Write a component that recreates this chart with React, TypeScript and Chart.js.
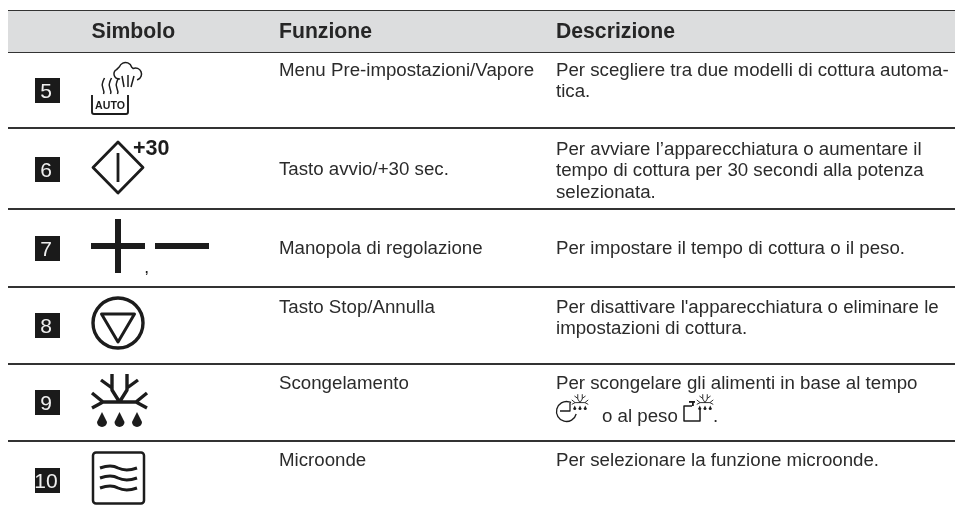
import React, { useEffect, useRef } from "react";
import { Chart, registerables } from "chart.js";
Chart.register(...registerables);

const headers = ["Simbolo", "Funzione", "Descrizione"];
const rowNumbers = ["5", "6", "7", "8", "9", "10"];
const functions = [
  "Menu Pre-impostazioni/Vapore",
  "Tasto avvio/+30 sec.",
  "Manopola di regolazione",
  "Tasto Stop/Annulla",
  "Scongelamento",
  "Microonde",
];
const descriptions = [
  ["Per scegliere tra due modelli di cottura automa-", "tica."],
  ["Per avviare l’apparecchiatura o aumentare il", "tempo di cottura per 30 secondi alla potenza", "selezionata."],
  ["Per impostare il tempo di cottura o il peso."],
  ["Per disattivare l'apparecchiatura o eliminare le", "impostazioni di cottura."],
  ["Per scongelare gli alimenti in base al tempo"],
  ["Per selezionare la funzione microonde."],
];
const inlineText = ["o al peso", "."];
const ruleRows = [11, 52, 128, 209, 287, 364, 441];
const functionBaselines = [76, 175, 254, 313, 389, 466];
const descBaselines = [76, 155, 254, 313, 389, 466];
const badgeTops = [78, 157, 236, 313, 390, 468];

const INK = "#2b2b2b";
const BODY = "18.7px 'Liberation Sans'";
const HEAD = "bold 21.2px 'Liberation Sans'";

function drawFlake(c: CanvasRenderingContext2D, x: number, y: number, s: number, w: number) {
  const paths = [
    [[112, 374], [112, 390], [119.5, 402], [127, 390], [127, 374]],
    [[101, 380], [112, 388]],
    [[138, 380], [127, 388]],
    [[92, 393], [103, 402], [92, 408]],
    [[147, 393], [136, 402], [147, 408]],
    [[103, 402], [136, 402]],
  ];
  c.lineWidth = w;
  c.beginPath();
  for (const p of paths) {
    p.forEach(([a, b], i) => {
      const px = x + (a - 119.5) * s, py = y + (b - 400) * s;
      if (i === 0) c.moveTo(px, py);
      else c.lineTo(px, py);
    });
  }
  c.stroke();
  for (const dx of [-17.5, 0, 17.5]) {
    const px = x + dx * s, py = y + 22 * s, r = 5 * s;
    c.beginPath();
    c.moveTo(px, py - 10 * s);
    c.quadraticCurveTo(px + r * 0.6, py - 4 * s, px + r, py);
    c.arc(px, py, r, 0, Math.PI);
    c.quadraticCurveTo(px - r * 0.6, py - 4 * s, px, py - 10 * s);
    c.fill();
  }
}

function drawIcons(c: CanvasRenderingContext2D) {
  c.strokeStyle = "#1c1c1c";
  c.fillStyle = "#1c1c1c";
  c.lineCap = "butt";
  c.lineJoin = "round";
  // 5: steam and AUTO tray
  c.lineWidth = 1.9;
  c.beginPath();
  c.moveTo(92, 95); c.lineTo(92, 112); c.quadraticCurveTo(92, 114, 94, 114);
  c.lineTo(126, 114); c.quadraticCurveTo(128, 114, 128, 112); c.lineTo(128, 95);
  c.stroke();
  c.font = "bold 10.6px 'Liberation Sans'";
  c.textAlign = "center"; c.textBaseline = "alphabetic";
  c.fillText("AUTO", 110, 108.8);
  c.lineWidth = 1.5;
  for (const x of [102.5, 109.5, 116.5]) {
    c.beginPath();
    c.moveTo(x + 1, 94);
    c.bezierCurveTo(x + 3, 90, x - 2, 87, x, 83);
    c.bezierCurveTo(x + 0.5, 81, x + 1, 80, x + 2, 78);
    c.stroke();
  }
  c.beginPath();
  c.moveTo(120, 79);
  c.arc(119, 74, 5, 1.4, 4.2);
  c.arc(125.5, 69, 6.5, 3.5, 6.0);
  c.arc(135.5, 74, 6, 4.3, 7.6);
  c.stroke();
  c.beginPath();
  c.moveTo(122, 76); c.lineTo(124, 87);
  c.moveTo(128, 75); c.lineTo(128, 87);
  c.moveTo(134, 76); c.lineTo(131, 87);
  c.stroke();
  // 6: start diamond
  c.lineWidth = 2.8;
  c.beginPath();
  c.moveTo(118, 142); c.lineTo(143, 167.5); c.lineTo(118, 193); c.lineTo(93, 167.5); c.closePath();
  c.stroke();
  c.beginPath(); c.moveTo(118, 153); c.lineTo(118, 182); c.stroke();
  c.font = "bold 21.5px 'Liberation Sans'";
  c.textAlign = "left";
  c.fillText("+30", 133, 154.5);
  // 7: plus, comma and minus
  c.fillRect(115, 219, 6, 54);
  c.fillRect(91, 243, 54, 6);
  c.fillRect(155, 243, 54, 6);
  c.font = "bold 12px 'Liberation Sans'";
  c.fillText(",", 145, 273);
  // 8: stop circle
  c.lineWidth = 3.4;
  c.beginPath(); c.arc(118, 323, 25, 0, Math.PI * 2); c.stroke();
  c.lineWidth = 3;
  c.beginPath(); c.moveTo(101.5, 314); c.lineTo(134.5, 314); c.lineTo(118, 342); c.closePath(); c.stroke();
  // 9: defrost
  drawFlake(c, 119.5, 400, 1, 3.4);
  // 10: microwave
  c.lineWidth = 2.5;
  c.beginPath(); c.roundRect(93, 452.5, 51, 51, 3); c.stroke();
  c.lineWidth = 3;
  for (const y of [468, 478, 488]) {
    c.beginPath();
    c.moveTo(100, y);
    c.bezierCurveTo(108, y - 3, 114, y - 2.5, 118, y);
    c.bezierCurveTo(123, y + 2.5, 130, y + 2.5, 137, y);
    c.stroke();
  }
  // small clock and weight glyphs in the defrost description
  c.lineWidth = 1.3;
  c.beginPath(); c.arc(566.5, 411.5, 10, 0.25, Math.PI * 1.65); c.stroke();
  c.beginPath(); c.moveTo(570, 403); c.lineTo(570, 411); c.lineTo(560, 411); c.stroke();
  drawFlake(c, 580, 402, 0.3, 0.9);
  c.lineWidth = 1.5;
  c.beginPath();
  c.moveTo(692, 406); c.lineTo(684, 406); c.lineTo(684, 421); c.lineTo(700, 421); c.lineTo(700, 408);
  c.stroke();
  c.fillRect(689, 401, 6, 1.8);
  c.fillRect(692, 401, 1.8, 5);
  drawFlake(c, 705, 402, 0.3, 0.9);
}

const tablePlugin = {
  id: "tableText",
  afterDatasetsDraw(chart: any) {
    const c = chart.ctx as CanvasRenderingContext2D;
    const X = chart.scales.x, Y = chart.scales.y;
    c.save();
    c.textBaseline = "alphabetic";
    c.textAlign = "left";
    c.fillStyle = "#262626";
    c.font = HEAD;
    [91.5, 279, 556].forEach((x, i) => c.fillText(headers[i], X.getPixelForValue(x), Y.getPixelForValue(37.5)));
    rowNumbers.forEach((n, i) => {
      const t = badgeTops[i];
      c.fillStyle = "#1a1a1a";
      c.fillRect(X.getPixelForValue(35), Y.getPixelForValue(t), 25, 25);
      c.fillStyle = "#efefef";
      c.font = "21px 'Liberation Sans'";
      c.textAlign = "center";
      c.fillText(n, X.getPixelForValue(46), Y.getPixelForValue(t + 19.5));
      c.textAlign = "left";
    });
    c.fillStyle = INK;
    c.font = BODY;
    functions.forEach((f, i) => c.fillText(f, X.getPixelForValue(279), Y.getPixelForValue(functionBaselines[i])));
    descriptions.forEach((lines, i) =>
      lines.forEach((l, j) => c.fillText(l, X.getPixelForValue(556), Y.getPixelForValue(descBaselines[i] + j * 21.3))),
    );
    c.fillText(inlineText[0], X.getPixelForValue(602), Y.getPixelForValue(422));
    c.fillText(inlineText[1], X.getPixelForValue(713), Y.getPixelForValue(422));
    drawIcons(c);
    c.restore();
  },
};

export default function App() {
  const ref = useRef<HTMLCanvasElement>(null);
  useEffect(() => {
    document.body.style.margin = "0";
    const datasets: any[] = [
      {
        data: [{ x: 8, y: 31.5 }, { x: 955, y: 31.5 }],
        borderColor: "#dcddde",
        borderWidth: 41,
        pointRadius: 0,
      },
      ...ruleRows.map((y) => ({
        data: [{ x: 8, y }, { x: 955, y }],
        borderColor: "#333333",
        borderWidth: 2,
        pointRadius: 0,
      })),
    ];
    const chart = new Chart(ref.current!, {
      type: "line",
      data: { datasets },
      options: {
        animation: false,
        responsive: false,
        layout: { padding: 0 },
        plugins: { legend: { display: false }, tooltip: { enabled: false } },
        scales: {
          x: { type: "linear", min: 0, max: 955, display: false },
          y: { type: "linear", min: 0, max: 514, reverse: true, display: false },
        },
      },
      plugins: [tablePlugin],
    });
    return () => chart.destroy();
  }, []);
  return <canvas ref={ref} width={955} height={514} style={{ display: "block" }} />;
}
